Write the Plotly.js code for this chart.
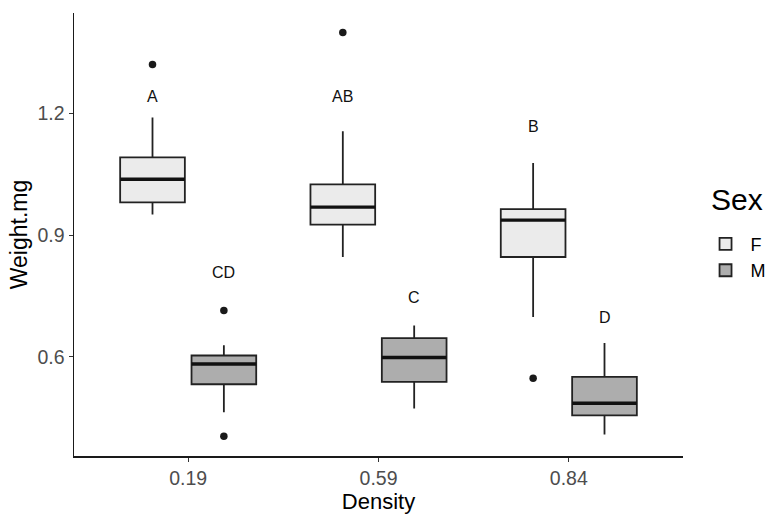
<!DOCTYPE html>
<html>
<head>
<meta charset="utf-8">
<script src="https://cdn.plot.ly/plotly-3.0.1.min.js"></script>
<style>
  html, body { margin: 0; padding: 0; background: #fff; }
  #chart { width: 780px; height: 519px; }
</style>
</head>
<body>
<div id="chart"></div>
<script>
// densities on the x axis
const densities = ["0.19", "0.59", "0.84"];

// female box stats
const fLower  = [0.951, 0.846, 0.698];
const fQ1     = [0.981, 0.926, 0.846];
const fMedian = [1.038, 0.969, 0.937];
const fQ3     = [1.092, 1.025, 0.964];
const fUpper  = [1.190, 1.156, 1.078];

// male box stats
const mLower  = [0.463, 0.472, 0.408];
const mQ1     = [0.532, 0.538, 0.455];
const mMedian = [0.582, 0.598, 0.485];
const mQ3     = [0.603, 0.646, 0.550];
const mUpper  = [0.628, 0.677, 0.634];

// outliers: group index + value
const fOutGroup = [0, 1, 2];
const fOutVal   = [1.321, 1.400, 0.547];
const mOutGroup = [0, 0];
const mOutVal   = [0.714, 0.404];

// significance letters
const fLetters = ["A", "AB", "B"];
const fLetterY = [1.243, 1.243, 1.167];
const mLetters = ["CD", "C", "D"];
const mLetterY = [0.807, 0.746, 0.696];

const DODGE = 0.1875;
const BOXW = 0.34;
const idx = densities.map((d, i) => i);
const fX = idx.map(i => i - DODGE);
const mX = idx.map(i => i + DODGE);

const lineCol = "#222222";

function boxTrace(name, xs, lo, q1, med, q3, hi, fill) {
  return {
    type: "box", name: name, x: xs,
    lowerfence: lo, q1: q1, median: med, q3: q3, upperfence: hi,
    width: BOXW, whiskerwidth: 0, boxpoints: false,
    fillcolor: fill, line: { color: lineCol, width: 1.8 },
    hoverinfo: "skip"
  };
}

// thicker median bars, like ggplot
function medianTrace(xs, med) {
  const x = [], y = [];
  xs.forEach((c, i) => {
    x.push(c - BOXW / 2, c + BOXW / 2, null);
    y.push(med[i], med[i], null);
  });
  return {
    type: "scatter", mode: "lines", x: x, y: y, showlegend: false,
    line: { color: "#111111", width: 3.4 }, hoverinfo: "skip"
  };
}

function outlierTrace(groups, vals, off) {
  return {
    type: "scatter", mode: "markers", showlegend: false,
    x: groups.map(g => g + off), y: vals,
    marker: { color: "#1a1a1a", size: 7.5 }, hoverinfo: "skip"
  };
}

const traces = [
  boxTrace(" F", fX, fLower, fQ1, fMedian, fQ3, fUpper, "#ebebeb"),
  boxTrace(" M", mX, mLower, mQ1, mMedian, mQ3, mUpper, "#adadad"),
  medianTrace(fX, fMedian),
  medianTrace(mX, mMedian),
  outlierTrace(fOutGroup, fOutVal, -DODGE),
  outlierTrace(mOutGroup, mOutVal, DODGE)
];

const annotations = [];
fLetters.forEach((t, i) => annotations.push({ x: fX[i], y: fLetterY[i], text: t }));
mLetters.forEach((t, i) => annotations.push({ x: mX[i], y: mLetterY[i], text: t }));
annotations.forEach(a => {
  a.xref = "x"; a.yref = "y"; a.showarrow = false;
  a.font = { size: 16, color: "#111111" };
});
// legend heading
annotations.push({
  xref: "paper", yref: "paper", x: 1.043, y: 0.579,
  xanchor: "left", yanchor: "middle", showarrow: false,
  text: "Sex", font: { size: 30, color: "#000" }
});

const layout = {
  width: 780, height: 519,
  margin: { l: 74, r: 97, t: 13, b: 63, autoexpand: false },
  paper_bgcolor: "#ffffff", plot_bgcolor: "#ffffff",
  font: { family: "Liberation Sans, Arial, sans-serif", color: "#000" },
  showlegend: true,
  legend: {
    x: 1.037, xanchor: "left", y: 0.52, yanchor: "top",
    font: { size: 18, color: "#000" },
    tracegroupgap: 0, itemwidth: 30
  },
  xaxis: {
    range: [-0.6, 2.6],
    tickvals: idx, ticktext: densities,
    showgrid: false, zeroline: false,
    showline: true, linecolor: "#1a1a1a", linewidth: 1.5,
    ticks: "outside", ticklen: 4, tickwidth: 1.2, tickcolor: "#333",
    tickfont: { size: 19.5, color: "#4d4d4d" },
    title: { text: "Density", font: { size: 22, color: "#000" }, standoff: 3 }
  },
  yaxis: {
    range: [0.355, 1.448],
    tickvals: [0.6, 0.9, 1.2], ticktext: ["0.6", "0.9", "1.2"],
    showgrid: false, zeroline: false,
    showline: true, linecolor: "#1a1a1a", linewidth: 1.5,
    ticks: "outside", ticklen: 4, tickwidth: 1.2, tickcolor: "#333",
    tickfont: { size: 19.5, color: "#4d4d4d" },
    title: { text: "Weight.mg", font: { size: 23, color: "#000" }, standoff: 3 }
  },
  annotations: annotations
};

Plotly.newPlot("chart", traces, layout, { staticPlot: true, displayModeBar: false });
</script>
</body>
</html>
